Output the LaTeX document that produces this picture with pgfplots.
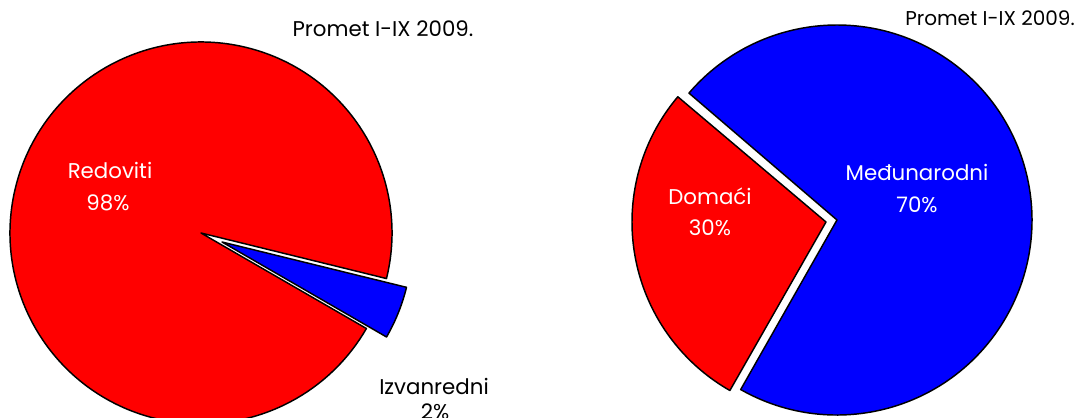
\documentclass[border=0pt]{standalone}
\usepackage{fontspec}
\setmainfont{Poppins}
\usepackage{pgfplots}
\pgfplotsset{compat=1.18}
% slice data: vertex x, vertex y (px, y up), start angle, end angle, radius (px)
\begin{document}
\begin{tikzpicture}
\begin{axis}[name=ax, x=0.75pt, y=0.75pt, xmin=0, xmax=1083, ymin=0, ymax=418,
  hide axis, clip=true]
% Left pie: Redoviti 98%, Izvanredni 2% (exploded)
\filldraw[fill=red, draw=black, line width=1.1pt, line join=round]
  (axis cs:201,185) -- ++(-13.8:143.25pt) arc[start angle=-13.8, end angle=330, radius=143.25pt] -- cycle;
\filldraw[fill=blue, draw=black, line width=1.1pt, line join=round]
  (axis cs:222,176) -- ++(-30:142.5pt) arc[start angle=-30, end angle=-13.8, radius=142.5pt] -- cycle;
% Right pie: Domaci 30% (exploded), Medunarodni 70%
\filldraw[fill=red, draw=black, line width=1.1pt, line join=round]
  (axis cs:826,196) -- ++(139.8:145.5pt) arc[start angle=139.8, end angle=240.3, radius=145.5pt] -- cycle;
\filldraw[fill=blue, draw=black, line width=1.1pt, line join=round]
  (axis cs:837,198) -- ++(240.4:146.25pt) arc[start angle=240.4, end angle=499.4, radius=146.25pt] -- cycle;
% titles
\node[font=\fontsize{16}{19}\selectfont] at (axis cs:383,389) {Promet I-IX 2009.};
\node[font=\fontsize{15}{18}\selectfont] at (axis cs:990,400) {Promet I-IX 2009.};
% labels
\node[font=\fontsize{16}{19}\selectfont, text=white] at (axis cs:110,248) {Redoviti};
\node[font=\fontsize{16}{19}\selectfont, text=white] at (axis cs:108,215) {98\%};
\node[font=\fontsize{16}{19}\selectfont, text=black] at (axis cs:434,32) {Izvanredni};
\node[font=\fontsize{16}{19}\selectfont, text=black] at (axis cs:435,6) {2\%};
\node[font=\fontsize{16}{19}\selectfont, text=white] at (axis cs:710,222) {Domaći};
\node[font=\fontsize{16}{19}\selectfont, text=white] at (axis cs:710,190) {30\%};
\node[font=\fontsize{16}{19}\selectfont, text=white] at (axis cs:917,246) {Međunarodni};
\node[font=\fontsize{16}{19}\selectfont, text=white] at (axis cs:917,213) {70\%};
\end{axis}
\pgfresetboundingbox
\path[use as bounding box] (ax.south west) rectangle (ax.north east);
\end{tikzpicture}
\end{document}
